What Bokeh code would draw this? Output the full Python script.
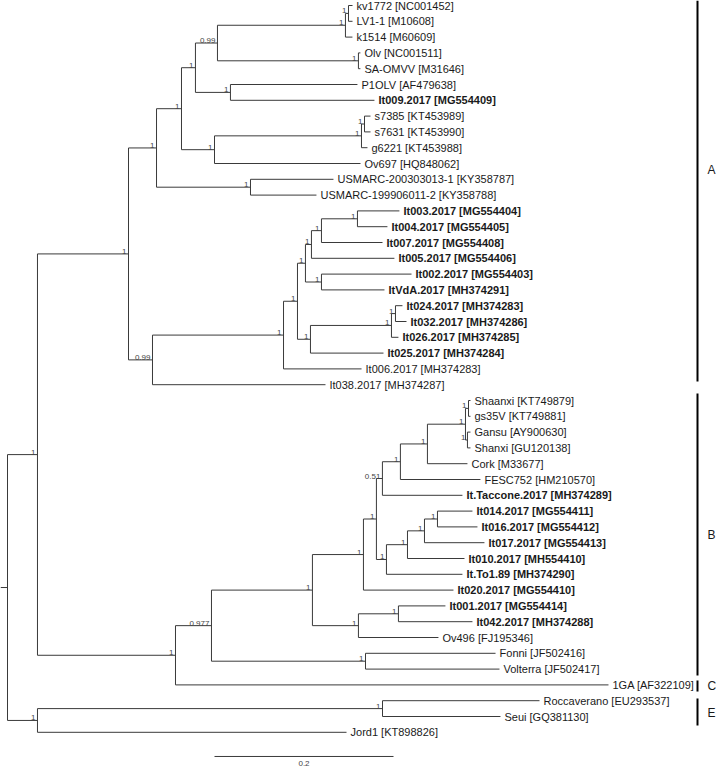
from bokeh.plotting import figure
from bokeh.models import ColumnDataSource, Range1d
from bokeh.embed import file_html
from bokeh.resources import INLINE
from bokeh.core.properties import value

# ---------------- data: tree topology with branch lengths (substitutions/site) and support values
CLADE_A1 = ("((((((kv1772 [NC001452]:0.0045,LV1-1 [M10608]:0.0045)1:0.0034,k1514 [M60609]:0.0078)1:0.1430,"
            "(Olv [NC001511]:0.0022,SA-OMVV [M31646]:0.0022)1:0.1575)0.99:0.0246,"
            "(P1OLV [AF479638]:0.1419,It009.2017 [MG554409]:0.1609)1:0.0391)1:0.0156,"
            "(((s7385 [KT453989]:0.0067,s7631 [KT453990]:0.0067)1:0.0034,g6221 [KT453988]:0.0067)1:0.1642,"
            "Ov697 [HQ848062]:0.1631)1:0.0369)1:0.0279,"
            "(USMARC-200303013-1 [KY358787]:0.0927,USMARC-199906011-2 [KY358788]:0.0737)1:0.1050)1:0.0313")
CLADE_A2 = ("(((((((It003.2017 [MG554404]:0.0469,It004.2017 [MG554405]:0.0335)1:0.0402,"
            "It007.2017 [MG554408]:0.0682)1:0.0112,It005.2017 [MG554406]:0.0927)1:0.0067,"
            "(It002.2017 [MG554403]:0.1006,ItVdA.2017 [MH374291]:0.0704)1:0.0179)1:0.0089,"
            "(((It024.2017 [MH374283]:0.0078,It032.2017 [MH374286]:0.0123)1:0.0045,"
            "It026.2017 [MH374285]:0.0078)1:0.0905,It025.2017 [MH374284]:0.0816)1:0.0145)1:0.0156,"
            "It006.2017 [MH374283]:0.0872)1:0.1464,It038.2017 [MH374287]:0.1933)0.99:0.0268")
CLADE_B1 = ("((((((((Shaanxi [KT749879]:0.0022,gs35V [KT749881]:0.0022)1:0.0034,"
            "(Gansu [AY900630]:0.0034,Shanxi [GU120138]:0.0034)1:0.0022)1:0.0425,"
            "Cork [M33677]:0.0447)1:0.0302,FESC752 [HM210570]:0.0894)1:0.0201,"
            "It.Taccone.2017 [MH374289]:0.0894)0.51:0.0067,"
            "((((It014.2017 [MG554411]:0.0391,It016.2017 [MG554412]:0.0447)1:0.0145,"
            "It017.2017 [MG554413]:0.0670)1:0.0190,It010.2017 [MH554410]:0.0637)1:0.0235,"
            "It.To1.89 [MH374290]:0.0849)1:0.0112)1:0.0145,It020.2017 [MG554410]:0.1006)1:0.0570,"
            "((It001.2017 [MG554414]:0.0525,It042.2017 [MH374288]:0.0827)1:0.0447,"
            "Ov496 [FJ195346]:0.0894)1:0.0514)1:0.1128")
CLADE_B2 = "(Fonni [JF502416]:0.1453,Volterra [JF502417]:0.1497)1:0.1721"
CLADE_C = "1GA [AF322109]:0.4838"
CLADE_E = "(Roccaverano [EU293537]:0.1754,Seui [GQ381130]:0.1318)1:0.3855"
OUTGROUP = "Jord1 [KT898826]:0.3453"

NEWICK = ("(((" + CLADE_A1 + "," + CLADE_A2 + ")1:0.1017,((" + CLADE_B1 + "," + CLADE_B2 +
          ")0.977:0.0402," + CLADE_C + ")1:0.1542)1:0.0335,(" + CLADE_E + "," + OUTGROUP + ")1:0.0335);")

BOLD_LEAVES = ["It009.2017", "It003.2017", "It004.2017", "It007.2017", "It005.2017", "It002.2017",
               "ItVdA.2017", "It024.2017", "It032.2017", "It026.2017", "It025.2017",
               "It.Taccone.2017", "It014.2017", "It016.2017", "It017.2017", "It010.2017",
               "It.To1.89", "It020.2017", "It001.2017", "It042.2017"]

CLADE_NAMES = ["A", "B", "C", "E"]
CLADE_BAR_START = [-0.32, 24.56, 42.72, 43.86]   # in leaf-row units
CLADE_BAR_END = [23.80, 42.40, 43.42, 45.57]
CLADE_LABEL_ROW = [10.44, 33.5, 43.1, 44.75]

SCALE_BAR_LENGTH = 0.2
SCALE_BAR_LABEL = "0.2"
ROOT_STUB = 0.0078

# ---------------- parse Newick
def parse(s):
    pos = 0
    n_chars = len(s)

    def node():
        nonlocal pos
        n = {"children": [], "name": "", "len": 0.0}
        if s[pos] == "(":
            pos += 1
            while True:
                n["children"].append(node())
                if pos >= n_chars:
                    raise ValueError("unbalanced newick")
                if s[pos] == ",":
                    pos += 1
                    continue
                if s[pos] == ")":
                    pos += 1
                    break
                raise ValueError("unexpected char %r at %d" % (s[pos], pos))
        start = pos
        while s[pos] not in ",():;":
            pos += 1
        n["name"] = s[start:pos].strip()
        if s[pos] == ":":
            pos += 1
            start = pos
            while s[pos] not in ",();":
                pos += 1
            n["len"] = float(s[start:pos])
        return n

    return node()


root = parse(NEWICK)
leaves = []


def layout(n, depth):
    n["x"] = depth
    if not n["children"]:
        n["y"] = float(len(leaves))
        leaves.append(n)
    else:
        for c in n["children"]:
            layout(c, depth + c["len"])
        n["y"] = (n["children"][0]["y"] + n["children"][-1]["y"]) / 2.0


layout(root, 0.0)

x0, y0, x1, y1 = [], [], [], []
sup_x, sup_y, sup_t = [], [], []


def collect(n, parent):
    if parent is not None:
        x0.append(parent["x"]); y0.append(n["y"]); x1.append(n["x"]); y1.append(n["y"])
    if n["children"]:
        x0.append(n["x"]); y0.append(n["children"][0]["y"])
        x1.append(n["x"]); y1.append(n["children"][-1]["y"])
        if n["name"]:
            sup_x.append(n["x"]); sup_y.append(n["y"]); sup_t.append(n["name"])
        for c in n["children"]:
            collect(c, n)


collect(root, None)
x0.append(-ROOT_STUB); y0.append(root["y"]); x1.append(0.0); y1.append(root["y"])

# ---------------- figure
PX_PER_UNIT = 895.0
ROW_PX = 15.8
X0_PX = 7.0
Y0_PX = 5.0
W, H = 716, 769
p = figure(width=W, height=H, output_backend="svg", toolbar_location=None,
           x_axis_location=None, y_axis_location=None, min_border=0,
           x_range=Range1d(-X0_PX / PX_PER_UNIT, (W - X0_PX) / PX_PER_UNIT),
           y_range=Range1d((H - Y0_PX) / ROW_PX, -Y0_PX / ROW_PX))
p.outline_line_color = None
p.background_fill_color = "white"
p.xgrid.grid_line_color = None
p.ygrid.grid_line_color = None

LINE = "#3a3a3a"
p.segment(x0=x0, y0=y0, x1=x1, y1=y1, line_color=LINE, line_width=1)

normal = {"x": [], "y": [], "t": []}
bold = {"x": [], "y": [], "t": []}
for lf in leaves:
    short = lf["name"].split(" [")[0]
    d = bold if short in BOLD_LEAVES else normal
    d["x"].append(lf["x"]); d["y"].append(lf["y"]); d["t"].append(lf["name"])

p.text(x="x", y="y", text="t", source=ColumnDataSource(normal), x_offset=4,
       text_font=value("Liberation Sans"), text_font_size="11px", text_baseline="middle",
       text_align="left", text_color="#1a1a1a")
p.text(x="x", y="y", text="t", source=ColumnDataSource(bold), x_offset=4,
       text_font=value("Liberation Sans"), text_font_size="11px", text_font_style="bold",
       text_baseline="middle", text_align="left", text_color="#1a1a1a")

p.text(x=sup_x, y=sup_y, text=sup_t, x_offset=-2,
       text_font=value("Liberation Sans"), text_font_size="8px", text_baseline="bottom",
       text_align="right", text_color="#444444")

# scale bar
sb_x = 0.2313
sb_row = 47.53
p.segment(x0=[sb_x], y0=[sb_row], x1=[sb_x + SCALE_BAR_LENGTH], y1=[sb_row], line_color=LINE, line_width=1)
p.text(x=[sb_x + SCALE_BAR_LENGTH / 2], y=[sb_row + 0.3], text=[SCALE_BAR_LABEL],
       text_font=value("Liberation Sans"), text_font_size="8px", text_baseline="top",
       text_align="center", text_color="#444444")

# clade bars and letters
bar_x = (697 - X0_PX) / PX_PER_UNIT
lab_x = (707 - X0_PX) / PX_PER_UNIT
p.segment(x0=[bar_x] * len(CLADE_NAMES), y0=CLADE_BAR_START, x1=[bar_x] * len(CLADE_NAMES),
          y1=CLADE_BAR_END, line_color="black", line_width=2)
p.text(x=[lab_x] * len(CLADE_NAMES), y=CLADE_LABEL_ROW, text=CLADE_NAMES,
       text_font=value("Liberation Sans"), text_font_size="12px", text_baseline="middle",
       text_align="left", text_color="#1a1a1a")

open("out.html", "w").write(file_html(p, INLINE))
